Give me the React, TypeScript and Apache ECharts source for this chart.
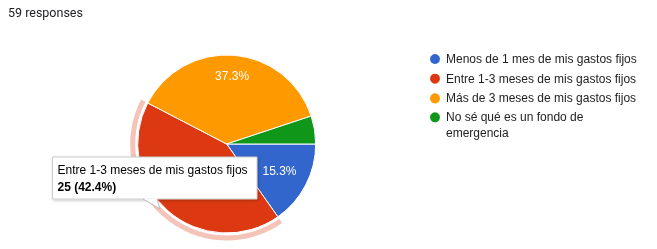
import React, { useEffect, useRef } from "react";
import * as echarts from "echarts";

const categories = [
  "Menos de 1 mes de mis gastos fijos",
  "Entre 1-3 meses de mis gastos fijos",
  "Más de 3 meses de mis gastos fijos",
  "No sé qué es un fondo de emergencia",
];
const counts = [9, 25, 22, 3];
const colors = ["#3366cc", "#dc3912", "#ff9900", "#109618"];
const totalResponses = 59;
const highlightedIndex = 1;

export default function App() {
  const ref = useRef<HTMLDivElement>(null);
  useEffect(() => {
    if (!ref.current) return;
    const chart = echarts.init(ref.current, null, { renderer: "svg" });
    const total = counts.reduce((a, b) => a + b, 0);
    const pct = (v: number) => ((v / total) * 100).toFixed(1) + "%";
    const cx = 226.7;
    const cy = 144;
    const R = 89;
    const font = "Arial, 'Liberation Sans', sans-serif";
    const fs = 12;
    const lh = 15.5;

    const baseData = categories.map((name, i) => ({
      name,
      value: counts[i],
      itemStyle: { color: colors[i] },
    }));

    const labelPie = (r0: number, showIdx: number, id: string) => ({
      type: "pie",
      id,
      center: [cx, cy],
      radius: [r0, R],
      startAngle: 0,
      clockwise: true,
      silent: true,
      z: 5,
      avoidLabelOverlap: false,
      legendHoverLink: false,
      data: categories.map((name, i) => ({
        name,
        value: counts[i],
        itemStyle: { color: "transparent" },
        label: { show: i === showIdx },
      })),
      label: {
        position: "inside",
        color: "#fff",
        fontSize: fs,
        fontFamily: font,
        formatter: (p: any) => pct(p.value),
      },
      labelLine: { show: false },
      tooltip: { show: false },
    });

    const hl = highlightedIndex;
    const tipX = 52.5;
    const tipY = 157;
    const tipW = 204.5;
    const tipH = 42;

    const legendText = {
      fontFamily: font,
      fontSize: fs,
      color: "#222222",
      lineHeight: lh,
    };

    chart.setOption({
      animation: false,
      color: colors,
      title: {
        text: `${totalResponses} responses`,
        left: 8,
        top: 6,
        padding: 0,
        textStyle: {
          fontFamily: "Roboto, sans-serif",
          fontSize: 12.5,
          fontWeight: "normal",
          color: "#202124",
        },
      },
      legend: [
        {
          orient: "vertical",
          left: 428,
          top: 51.25,
          padding: 0,
          icon: "circle",
          itemWidth: 12,
          itemHeight: 12,
          itemGap: 4.2,
          selectedMode: false,
          textStyle: legendText,
          data: categories.slice(0, 3),
        },
        {
          orient: "vertical",
          left: 428,
          top: 117.3 - lh * 1.5,
          padding: 0,
          icon: "circle",
          itemWidth: 12,
          itemHeight: 12,
          selectedMode: false,
          textStyle: legendText,
          data: categories.slice(3),
          formatter: () => "\nNo sé qué es un fondo de\nemergencia",
        },
      ],
      series: [
        {
          type: "pie",
          id: "main",
          center: [cx, cy],
          radius: [0, R],
          startAngle: 0,
          clockwise: true,
          z: 2,
          data: baseData,
          itemStyle: { borderColor: "#ffffff", borderWidth: 1 },
          label: { show: false },
          labelLine: { show: false },
          emphasis: { disabled: true },
        },
        {
          type: "pie",
          id: "halo",
          center: [cx, cy],
          radius: [R + 2.5, R + 7.5],
          startAngle: 0,
          clockwise: true,
          silent: true,
          z: 1,
          legendHoverLink: false,
          data: categories.map((name, i) => ({
            name,
            value: counts[i],
            itemStyle: {
              color: i === hl ? "#f5c4b8" : "transparent",
            },
          })),
          label: { show: false },
          labelLine: { show: false },
        },
        labelPie(41, 2, "lbl-orange"),
        labelPie(24, 0, "lbl-blue"),
      ],
      graphic: [
        {
          type: "rect",
          z: 100,
          shape: { x: tipX, y: tipY, width: tipW, height: tipH },
          style: {
            fill: "#ffffff",
            stroke: "#cccccc",
            lineWidth: 1,
            shadowBlur: 3,
            shadowOffsetX: 1,
            shadowOffsetY: 1,
            shadowColor: "rgba(0,0,0,0.25)",
          },
        },
        {
          type: "polygon",
          z: 101,
          shape: {
            points: [
              [143, tipY + tipH - 0.5],
              [157, tipY + tipH - 0.5],
              [160, 209],
            ],
          },
          style: { fill: "#ffffff" },
        },
        {
          type: "polyline",
          z: 102,
          shape: {
            points: [
              [143, tipY + tipH],
              [160, 209],
              [157, tipY + tipH],
            ],
          },
          style: { stroke: "#bbbbbb", lineWidth: 1, fill: "none" },
        },
        {
          type: "text",
          z: 103,
          x: 57.5,
          y: 170,
          style: {
            text: categories[hl],
            fontFamily: font,
            fontSize: fs,
            fill: "#000000",
            verticalAlign: "middle",
          },
        },
        {
          type: "text",
          z: 103,
          x: 57.5,
          y: 186.5,
          style: {
            text: `${counts[hl]} (${pct(counts[hl])})`,
            fontFamily: font,
            fontSize: fs,
            fontWeight: "bold",
            fill: "#000000",
            verticalAlign: "middle",
          },
        },
      ],
    });
    return () => chart.dispose();
  }, []);
  return (
    <div
      ref={ref}
      style={{ position: "fixed", left: 0, top: 0, width: 657, height: 249 }}
    />
  );
}
